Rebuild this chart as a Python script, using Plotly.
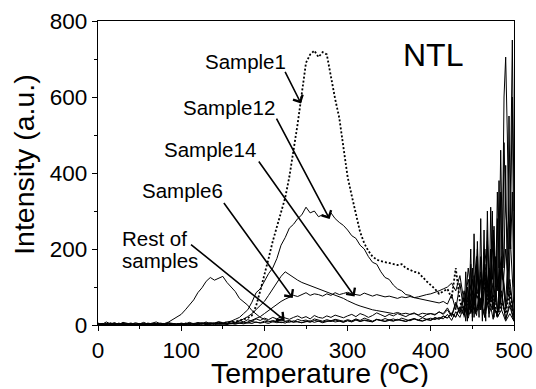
import plotly.graph_objects as go

# ---------------- data ----------------
TEMP = list(range(0, 501, 5))  # degrees C

SAMPLE1 = [2, 3, 1, 4, 2, 3, 1, 2, 4, 2,
           3, 1, 2, 3, 2, 4, 1, 3, 2, 3,
           2, 4, 3, 2, 4, 3, 5, 3, 4, 6,
           5, 7, 6, 9, 10, 14, 18, 25, 50, 90,
           130, 175, 220, 260, 295, 335, 390, 455, 530, 610,
           690, 712, 722, 705, 718, 712, 650, 595, 545, 470,
           390, 340, 294, 245, 215, 195, 180, 172, 168, 166,
           162, 160, 158, 160, 150, 145, 140, 138, 126, 115,
           105, 95, 82, 88, 95, 70, 150, 60, 40, 70,
           30, 90, 50, 130, 40, 80, 20, 60, 30, 90,
           20]

SAMPLE12 = [3, 1, 4, 2, 3, 2, 5, 1, 3, 2,
            4, 2, 3, 1, 3, 5, 2, 4, 3, 2,
            4, 3, 5, 4, 6, 5, 4, 6, 5, 7,
            5, 8, 10, 15, 20, 30, 40, 60, 85, 95,
            115, 135, 150, 175, 210, 230, 255, 265, 280, 290,
            310, 295, 300, 285, 290, 285, 295, 280, 270, 262,
            250, 235, 228, 210, 200, 180, 165, 160, 140, 125,
            120, 105, 95, 90, 80, 78, 72, 70, 66, 64,
            62, 60, 58, 62, 55, 80, 40, 110, 30, 150,
            60, 180, 40, 200, 60, 250, 30, 150, 40, 100,
            20]

SAMPLE14 = [1, 3, 2, 0, 2, 4, 1, 3, 2, 1,
            2, 4, 1, 3, 2, 1, 3, 2, 4, 2,
            3, 2, 4, 3, 2, 4, 3, 5, 3, 4,
            4, 3, 5, 4, 6, 5, 8, 12, 18, 22,
            30, 38, 45, 55, 62, 68, 72, 78, 75, 80,
            85, 78, 82, 80, 76, 82, 78, 85, 80, 83,
            86, 82, 80, 78, 84, 80, 76, 80, 78, 74,
            76, 72, 70, 74, 72, 75, 72, 74, 78, 80,
            82, 85, 90, 95, 100, 110, 90, 130, 60, 120,
            80, 160, 40, 100, 30, 60, 20, 40, 10, 30,
            10]

SAMPLE6 = [2, 0, 3, 1, 4, 2, 1, 3, 0, 2,
           3, 1, 2, 4, 1, 3, 2, 0, 3, 1,
           2, 4, 1, 3, 2, 5, 3, 2, 4, 3,
           4, 3, 5, 5, 10, 15, 22, 30, 40, 50,
           62, 78, 95, 110, 128, 140, 132, 125, 118, 112,
           108, 104, 100, 96, 92, 88, 84, 80, 76, 70,
           64, 58, 54, 50, 46, 44, 40, 38, 36, 34,
           32, 30, 33, 29, 31, 28, 30, 27, 31, 29,
           30, 28, 34, 30, 45, 25, 60, 35, 90, 30,
           120, 40, 70, 20, 150, 50, 25, 90, 15, 60,
           10]

EARLY = [2, 4, 1, 3, 5, 2, 3, 1, 4, 2,
         3, 2, 5, 3, 1, 4, 4, 8, 15, 20,
         28, 40, 52, 66, 85, 98, 115, 125, 118, 122,
         128, 112, 100, 88, 70, 60, 52, 38, 28, 20,
         15, 10, 8, 10, 6, 9, 7, 11, 8, 6,
         10, 7, 12, 9, 8, 11, 9, 13, 10, 8,
         12, 9, 14, 10, 13, 11, 9, 15, 12, 10,
         14, 11, 15, 12, 10, 14, 17, 13, 11, 15,
         13, 20, 16, 24, 19, 32, 22, 48, 26, 60,
         35, 80, 50, 140, 60, 110, 40, 170, 50, 120,
         20]

REST1 = [5, 2, 8, 3, 6, 1, 7, 4, 2, 6,
         3, 7, 2, 5, 8, 3, 1, 6, 4, 2,
         5, 3, 7, 2, 6, 4, 8, 3, 5, 9,
         6, 4, 10, 7, 12, 8, 14, 10, 16, 12,
         18, 14, 20, 16, 22, 18, 15, 20, 24, 18,
         22, 16, 25, 20, 18, 24, 20, 26, 22, 19,
         24, 28, 22, 30, 26, 20, 25, 32, 27, 22,
         28, 24, 30, 26, 22, 28, 32, 25, 20, 27,
         30, 26, 35, 28, 40, 22, 55, 30, 70, 25,
         90, 35, 60, 20, 110, 45, 30, 80, 15, 50,
         10]

REST2 = [1, 4, 0, 3, 1, 5, 2, 0, 3, 1,
         2, 0, 4, 1, 3, 0, 2, 5, 1, 3,
         0, 2, 4, 1, 3, 5, 2, 4, 1, 3,
         2, 5, 3, 6, 4, 8, 5, 9, 7, 6,
         10, 8, 12, 9, 14, 10, 12, 8, 15, 11,
         13, 9, 16, 12, 10, 14, 11, 15, 13, 10,
         14, 11, 16, 12, 18, 13, 10, 15, 12, 17,
         13, 16, 12, 18, 14, 11, 16, 13, 19, 15,
         18, 14, 20, 16, 28, 12, 35, 20, 50, 18,
         60, 25, 140, 30, 70, 15, 120, 40, 200, 60,
         30]

REST3 = [3, 0, 2, 5, 1, 3, 4, 2, 0, 3,
         1, 3, 0, 2, 4, 1, 3, 0, 2, 1,
         3, 1, 2, 4, 0, 3, 1, 2, 4, 2,
         3, 1, 4, 2, 5, 3, 6, 4, 8, 5,
         7, 4, 9, 6, 8, 5, 10, 7, 9, 6,
         8, 11, 7, 10, 6, 9, 12, 8, 10, 7,
         11, 8, 13, 9, 12, 10, 8, 14, 11, 9,
         12, 10, 14, 11, 9, 13, 16, 12, 10, 14,
         12, 18, 15, 22, 18, 30, 20, 45, 25, 80,
         40, 100, 55, 160, 80, 220, 100, 180, 60, 250,
         40]

HOT_TEMP = list(range(440, 501, 2))
HOT1 = [20, 80, 10, 120, 30, 150, 20, 90, 200, 40,
        180, 60, 250, 30, 300, 80, 200, 40, 260, 100,
        350, 150, 460, 200, 600, 705, 500, 200, 400, 750,
        300]
HOT2 = [50, 10, 100, 40, 160, 20, 130, 30, 220, 60,
        120, 10, 180, 90, 250, 20, 310, 120, 180, 60,
        280, 40, 350, 120, 480, 300, 250, 100, 300, 600,
        100]
HOT3 = [30, 140, 20, 60, 200, 10, 240, 70, 130, 20,
        280, 40, 160, 10, 220, 120, 60, 300, 20, 180,
        90, 380, 60, 250, 150, 420, 80, 550, 200, 350,
        60]

LABELS = ["Sample1", "Sample12", "Sample14", "Sample6", "Rest of", "samples"]
# text positions (left edge, vertical centre), data units
LABEL_X = [126, 99.6, 76.4, 50.4, 26.4, 26.4]
LABEL_Y = [694, 573, 463, 353, 228, 169]
# arrows: tail -> head, data units
ARROW_TAIL_X = [224, 213.6, 192, 150, 110]
ARROW_TAIL_Y = [670, 547, 434, 325, 215]
ARROW_HEAD_X = [244, 278.4, 308.4, 234, 224.4]
ARROW_HEAD_Y = [583, 279, 75, 71, 12]

FONT = "Liberation Sans, Arial, sans-serif"

fig = go.Figure()

solid_series = [SAMPLE12, SAMPLE14, SAMPLE6, EARLY, REST1, REST2, REST3]
for s in solid_series:
    fig.add_trace(go.Scatter(x=TEMP, y=s, mode="lines",
                             line=dict(color="black", width=1)))
for s in [HOT1, HOT2, HOT3]:
    fig.add_trace(go.Scatter(x=HOT_TEMP, y=s, mode="lines",
                             line=dict(color="black", width=1)))
fig.add_trace(go.Scatter(x=TEMP, y=SAMPLE1, mode="lines",
                         line=dict(color="black", width=1.8, dash="2px,2px")))

annotations = []
for t, x, y in zip(LABELS, LABEL_X, LABEL_Y):
    annotations.append(dict(x=x, y=y, xref="x", yref="y", text=t, showarrow=False,
                            xanchor="left", yanchor="middle",
                            font=dict(family=FONT, size=20.5, color="black")))
for tx, ty, hx, hy in zip(ARROW_TAIL_X, ARROW_TAIL_Y, ARROW_HEAD_X, ARROW_HEAD_Y):
    annotations.append(dict(x=hx, y=hy, ax=tx, ay=ty, xref="x", yref="y",
                            axref="x", ayref="y", text="", showarrow=True,
                            arrowhead=4, arrowsize=1.3, arrowwidth=1.6,
                            arrowcolor="black", standoff=0))
annotations.append(dict(x=0.729, y=0.887, xref="paper", yref="paper", text="NTL",
                        showarrow=False, xanchor="left", yanchor="middle",
                        font=dict(family=FONT, size=32, color="black")))
annotations.append(dict(x=0.533, y=-0.157, xref="paper", yref="paper",
                        text="Temperature (ºC)", showarrow=False, height=28,
                        xanchor="center", yanchor="middle",
                        font=dict(family=FONT, size=28.5, color="black")))
annotations.append(dict(x=-0.178, y=0.53, xref="paper", yref="paper",
                        text="Intensity (a.u.)", showarrow=False, textangle=-90,
                        xanchor="center", yanchor="middle",
                        font=dict(family=FONT, size=28.5, color="black")))

axis_common = dict(showline=True, linecolor="black", linewidth=1.3, mirror=True,
                   ticks="outside", ticklen=5, tickwidth=1.2, tickcolor="black",
                   showgrid=False, zeroline=False, automargin=False,
                   tickfont=dict(family=FONT, size=22.5, color="black"))

fig.update_layout(
    width=536, height=389,
    margin=dict(l=98, r=22, t=21, b=64),
    paper_bgcolor="white", plot_bgcolor="white",
    showlegend=False,
    annotations=annotations,
    xaxis=dict(range=[0, 500], tickmode="linear", tick0=0, dtick=100,
               minor=dict(dtick=50, ticks="outside", ticklen=3, tickcolor="black",
                          showgrid=False),
               **axis_common),
    yaxis=dict(range=[0, 800], tickmode="linear", tick0=0, dtick=200,
               minor=dict(dtick=100, ticks="outside", ticklen=3, tickcolor="black",
                          showgrid=False),
               **axis_common),
)

fig.write_html("out.html",
               config={"displayModeBar": False},
               post_script="document.body.style.margin='0';"
                           "document.body.style.overflow='hidden';")
